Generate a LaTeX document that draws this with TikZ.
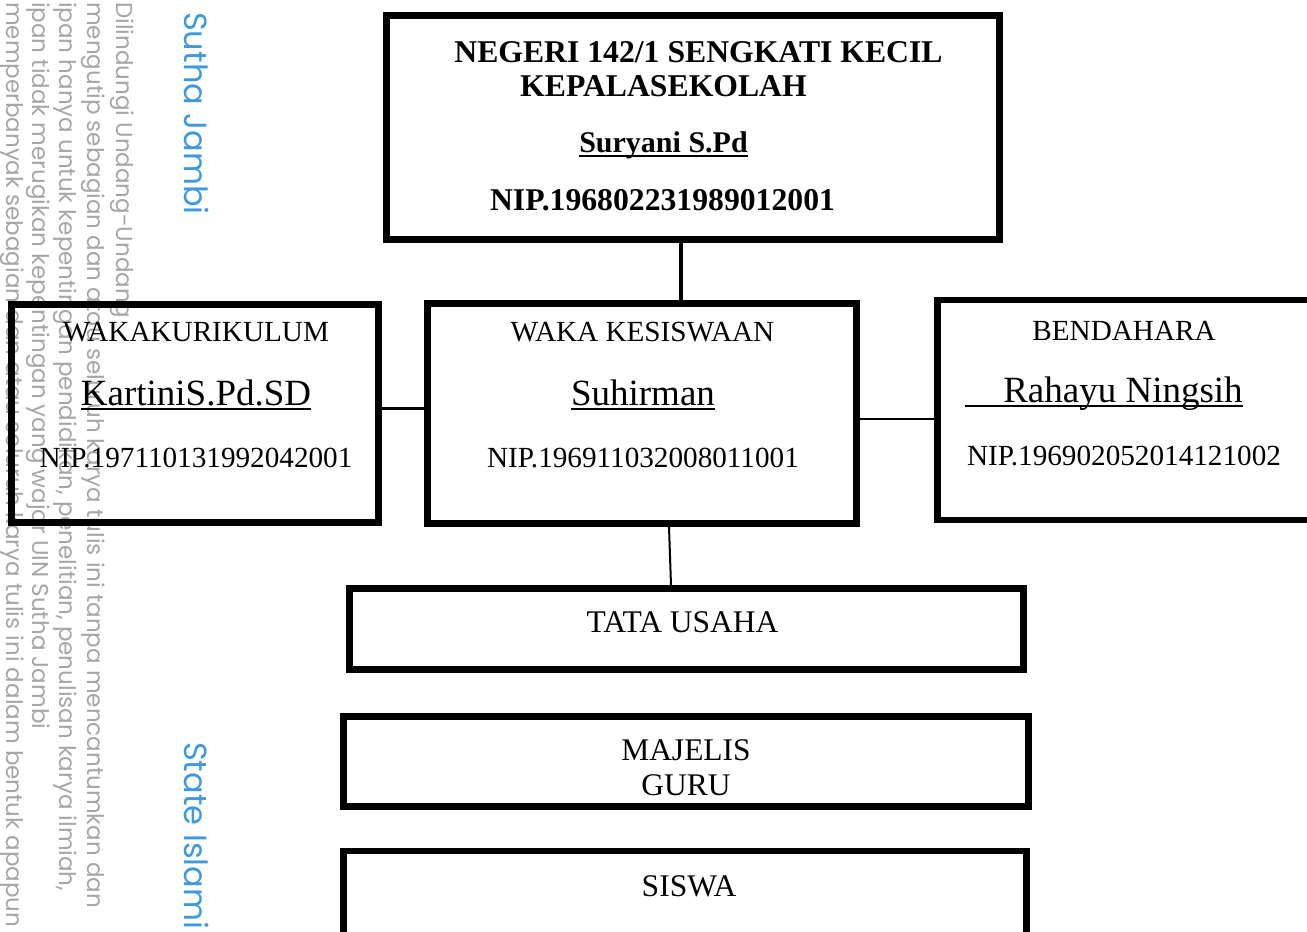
\documentclass[tikz,border=0pt]{standalone}
\usepackage{fontspec}
\setmainfont{Liberation Serif}
\newfontfamily\wmfont{Poppins}
\usepackage{tikz}
\usetikzlibrary{positioning}

\definecolor{wmgray}{HTML}{A6A6A6}
\definecolor{wmblue}{HTML}{3B9AE1}

\newcommand{\fs}[1]{\fontsize{#1}{#1}\selectfont}
\newsavebox{\namebox}
\newcommand{\nameline}[2]{\sbox{\namebox}{#2}\rlap{\rule[-5pt]{\wd\namebox}{#1}}\usebox{\namebox}}

\begin{document}
\begin{tikzpicture}[x=1pt, y=-1pt,
	box/.style={draw, line width=6.5pt, inner sep=0pt},
	txt/.style={anchor=base, inner sep=0pt, font=\fs{29.2}},
	nama/.style={anchor=base, inner sep=0pt, font=\fs{37}},
	judul/.style={anchor=base, inner sep=0pt, font=\bfseries\fs{31.7}},
	unit/.style={anchor=base, inner sep=0pt, font=\fs{31.5}},
	wm/.style={rotate=-90, anchor=base west, inner sep=0pt, text=wmgray, font=\wmfont\fs{23}},
	wmbig/.style={rotate=-90, anchor=base west, inner sep=0pt, text=wmblue, font=\wmfont\fs{32}}]

	\useasboundingbox (0,0) rectangle (1307,932);

	% watermark
	\node[wm] (wm1) at (116,2) {Dilindungi Undang-Undang};
	\node[wm] (wm2) at (87,2) {mengutip sebagian dan atau seluruh karya tulis ini tanpa mencantumkan dan};
	\node[wm] (wm3) at (59,2) {ipan hanya untuk kepentingan pendidikan, penelitian, penulisan karya ilmiah,};
	\node[wm] (wm4) at (32,2) {ipan tidak merugikan kepentingan yang wajar UIN Sutha Jambi};
	\node[wm] (wm5) at (6,2) {memperbanyak sebagian dan atau seluruh karya tulis ini dalam bentuk apapun};
	\node[wmbig] (wm6) at (184,12) {Sutha Jambi};
	\node[wmbig] (wm7) at (184,742) {State Islami};

	% boxes
	\begin{scope}
	\clip (0,0) rectangle (1307,932);
	\node[box, minimum width=613pt, minimum height=224pt] (kepsek) at (693,127.5) {};
	\node[box, minimum width=367pt, minimum height=218pt] (wakakur) at (195,413.5) {};
	\node[box, minimum width=429pt, minimum height=220pt] (wakasis) at (642,413.5) {};
	\node[box, minimum width=400pt, minimum height=220pt] (bendahara) at (1137.5,410) {};
	\node[box, minimum width=674pt, minimum height=81pt] (tu) at (686.5,629) {};
	\node[box, minimum width=685pt, minimum height=90pt] (majelis) at (686,761.5) {};
	\node[box, minimum width=683pt, minimum height=150pt] (siswa) at (685,926) {};
	\end{scope}

	% texts
	\node[judul] (kepsek1) at (698.5,62) {NEGERI 142/1 SENGKATI KECIL};
	\node[judul] (kepsek2) at (663.5,96) {KEPALASEKOLAH};
	\node[judul, font=\bfseries\fs{30}] (kepsek3) at (663.5,152) {\nameline{2pt}{Suryani S.Pd}};
	\node[judul] (kepsek4) at (662.5,210) {NIP.196802231989012001};

	\node[txt] (wakakur1) at (196,341) {WAKAKURIKULUM};
	\node[nama] (wakakur2) at (196,405) {\nameline{1.6pt}{KartiniS.Pd.SD}};
	\node[txt] (wakakur3) at (196,467) {NIP.197110131992042001};

	\node[txt] (wakasis1) at (642.5,341) {WAKA KESISWAAN};
	\node[nama] (wakasis2) at (643,405) {\nameline{1.6pt}{Suhirman}};
	\node[txt] (wakasis3) at (643,467) {NIP.196911032008011001};

	\node[txt] (bendahara1) at (1124,340) {BENDAHARA};
	\node[nama] (bendahara2) at (1104,402) {\nameline{1.6pt}{\hspace*{38pt}Rahayu Ningsih}};
	\node[txt] (bendahara3) at (1124,465) {NIP.196902052014121002};

	\node[unit] (tu1) at (682.5,632) {TATA USAHA};
	\node[unit] (majelis1) at (686,760) {MAJELIS};
	\node[unit] (majelis2) at (686,795) {GURU};
	\node[unit] (siswa1) at (689,896) {SISWA};

	% lines
	\draw[line width=3.5pt] (kepsek.south -| 681,0) -- (wakasis.north -| 681,0);
	\draw[line width=3pt] (wakakur.east |- 0,408) -- (wakasis.west |- 0,408);
	\draw[line width=2pt] (wakasis.east |- 0,419) -- (bendahara.west |- 0,419);
	\draw[line width=2pt] (wakasis.south -| 669,0) -- (tu.north -| 671,0);
\end{tikzpicture}
\end{document}
